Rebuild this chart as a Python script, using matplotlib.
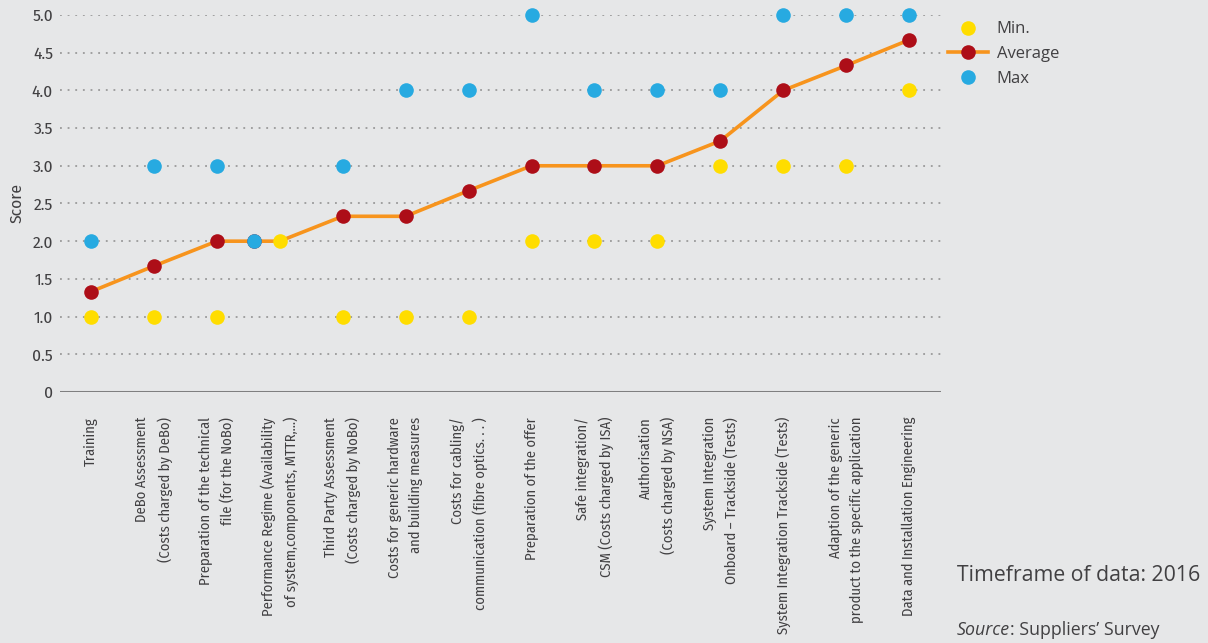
import matplotlib
matplotlib.use("Agg")
import matplotlib.pyplot as plt
from matplotlib.lines import Line2D
import numpy as np

categories = [
    "Training",
    "DeBo Assessment\n(Costs charged by DeBo)",
    "Preparation of the technical\nfile (for the NoBo)",
    "Performance Regime (Availability\nof system,components, MTTR,...)",
    "Third Party Assessment\n(Costs charged by NoBo)",
    "Costs for generic hardware\nand building measures",
    "Costs for cabling/\ncommunication (fibre optics. . . )",
    "Preparation of the offer",
    "Safe integration/\nCSM (Costs charged by ISA)",
    "Authorisation\n(Costs charged by NSA)",
    "System Integration\nOnboard \u2013 Trackside (Tests)",
    "System Integration Trackside (Tests)",
    "Adaption of the generic\nproduct to the specific application",
    "Data and Installation Engineering",
]
min_scores = [1, 1, 1, 2, 1, 1, 1, 2, 2, 2, 3, 3, 3, 4]
avg_scores = [1.33, 1.67, 2.0, 2.0, 2.33, 2.33, 2.67, 3.0, 3.0, 3.0, 3.33, 4.0, 4.33, 4.67]
max_scores = [2, 3, 3, 2, 3, 4, 4, 5, 4, 4, 4, 5, 5, 5]
y_ticks = [0, 0.5, 1.0, 1.5, 2.0, 2.5, 3.0, 3.5, 4.0, 4.5, 5.0]
y_tick_labels = ["0", "0.5", "1.0", "1.5", "2.0", "2.5", "3.0", "3.5", "4.0", "4.5", "5.0"]

BG = "#e6e7e8"
YELLOW = "#ffdd00"
RED = "#ad0e18"
BLUE = "#27aae1"
ORANGE = "#f7941d"
TEXT = "#414042"

narrow = ["Fira Sans Condensed", "DejaVu Sans Condensed", "DejaVu Sans"]
regular = ["Open Sans", "DejaVu Sans"]

fig = plt.figure(figsize=(12.08, 6.43), dpi=100, facecolor=BG)
ax = fig.add_axes([0.0497, 0.3904, 0.729, 0.5863], facecolor=BG)

x = np.arange(len(categories))
mins = np.array(min_scores, dtype=float)
avgs = np.array(avg_scores, dtype=float)
maxs = np.array(max_scores, dtype=float)

# when all three values coincide, nudge average/max markers to the left
dodge = np.where((mins == avgs) & (avgs == maxs), -0.41, 0.0)

ms = 10.5
ax.plot(x, avgs, color=ORANGE, lw=2.6, zorder=3, solid_capstyle="round")
ax.plot(x, mins, "o", color=YELLOW, ms=ms, mec="none", zorder=4, clip_on=False)
ax.plot(x + dodge, avgs, "o", color=RED, ms=ms, mec="none", zorder=5, clip_on=False)
ax.plot(x + dodge, maxs, "o", color=BLUE, ms=ms, mec="none", zorder=6, clip_on=False)

ax.set_xlim(-0.49, len(categories) - 0.5)
ax.set_ylim(0, 5)

for yv in y_ticks[1:]:
    ax.axhline(yv, color="#8c8c8c", lw=1.1, ls=(0, (1.2, 3.8)), zorder=1)
ax.axhline(0, color="#7f7f80", lw=2.2, zorder=2)

for s in ax.spines.values():
    s.set_visible(False)

ax.set_yticks(y_ticks)
ax.set_yticklabels(y_tick_labels, fontfamily=narrow, fontsize=12.5, color=TEXT)
ax.tick_params(axis="y", length=0, pad=5)
ax.set_xticks(x)
ax.set_xticklabels(categories, rotation=90, fontfamily=narrow,
                   fontsize=10.5, color=TEXT, ha="center", va="top",
                   multialignment="right", linespacing=1.6)
ax.tick_params(axis="x", length=0, pad=18)
ax.set_ylabel("Score", fontfamily=narrow, fontsize=12.5,
              color=TEXT, labelpad=5)

handles = [
    Line2D([], [], marker="o", ls="none", color=YELLOW, ms=ms, mec="none"),
    Line2D([], [], marker="o", color=ORANGE, lw=2.6, mfc=RED, mec="none", ms=ms),
    Line2D([], [], marker="o", ls="none", color=BLUE, ms=ms, mec="none"),
]
leg = fig.legend(handles, ["Min.", "Average", "Max"], loc="upper left",
                 bbox_to_anchor=(0.772, 0.99), frameon=False,
                 prop={"family": regular, "size": 12}, labelcolor=TEXT,
                 handlelength=2.4, handletextpad=0.55, labelspacing=0.52)

fig.text(0.792, 0.105, "Timeframe of data: 2016", fontfamily=regular,
         fontsize=15.3, color=TEXT, va="center")
src = fig.text(0.792, 0.02, "Source", fontfamily=regular, fontstyle="italic",
               fontsize=12.8, color=TEXT, va="center")
fig.canvas.draw()
bb = src.get_window_extent()
fig.text(bb.x1 / fig.bbox.width, 0.02, ": Suppliers\u2019 Survey", fontfamily=regular,
         fontsize=12.8, color=TEXT, va="center")

fig.savefig("out.png", dpi=100, facecolor=BG)
